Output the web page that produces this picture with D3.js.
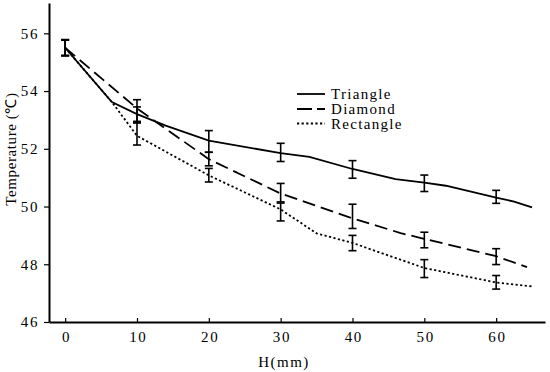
<!DOCTYPE html>
<html>
<head>
<meta charset="utf-8">
<script src="https://cdn.jsdelivr.net/npm/d3@7"></script>
<style>
  html, body { margin: 0; padding: 0; background: #fff; }
  svg { display: block; }
</style>
</head>
<body>
<svg id="chart" width="550" height="372"></svg>
<script>
// ---- data ----
const xTicks = [0, 10, 20, 30, 40, 50, 60];
const yTicks = [46, 48, 50, 52, 54, 56];
const seriesNames = ["Triangle", "Diamond", "Rectangle"];

const triangleH = [0, 6.5, 10, 14, 20, 30, 34, 40, 46, 50, 53, 60, 62.5, 65];
const triangleT = [55.5, 53.62, 53.2, 52.8, 52.28, 51.85, 51.72, 51.3, 50.95, 50.83, 50.72, 50.31, 50.17, 49.97];

const diamondH = [0, 10, 20, 30, 40, 46.7, 50, 60, 64.3];
const diamondT = [55.5, 53.4, 51.64, 50.45, 49.59, 49.08, 48.88, 48.28, 47.9];

const rectangleH = [0, 6.5, 10, 20, 30, 35, 40, 44, 50, 60, 65.2];
const rectangleT = [55.5, 53.62, 52.45, 51.08, 49.9, 49.07, 48.74, 48.39, 47.87, 47.37, 47.23];

const errH = [0, 10, 20, 30, 40, 50, 60];
const triangleLo = [55.22, 52.95, 51.88, 51.56, 50.98, 50.52, 50.11];
const triangleHi = [55.78, 53.45, 52.63, 52.19, 51.59, 51.09, 50.56];
const diamondLo  = [55.22, 52.90, 51.41, 50.16, 49.24, 48.57, 47.99];
const diamondHi  = [55.78, 53.70, 51.88, 50.80, 50.08, 49.11, 48.54];
const rectangleLo = [55.24, 52.13, 50.85, 49.50, 48.47, 47.54, 47.14];
const rectangleHi = [55.76, 52.90, 51.32, 50.12, 49.00, 48.16, 47.61];

// ---- layout ----
const FONT = "'Liberation Serif', 'Times New Roman', Times, serif";
const svg = d3.select("#chart");
const mLeft = 49, mRight = 545, mTop = 3, mBottom = 322;

const x = d3.scaleLinear().domain([-2.25, 66.8]).range([mLeft, mRight]);
const y = d3.scaleLinear().domain([46, 57.05]).range([mBottom, mTop]);

const series = [
  { name: seriesNames[0], h: triangleH, t: triangleT, lo: triangleLo, hi: triangleHi, dash: null, width: 1.8 },
  { name: seriesNames[1], h: diamondH, t: diamondT, lo: diamondLo, hi: diamondHi, dash: "13,6", width: 1.8 },
  { name: seriesNames[2], h: rectangleH, t: rectangleT, lo: rectangleLo, hi: rectangleHi, dash: "2.2,2.4", width: 1.8 }
];

const line = d3.line().x(d => x(d[0])).y(d => y(d[1]));

series.forEach(s => {
  svg.append("path")
    .datum(s.h.map((h, i) => [h, s.t[i]]))
    .attr("d", line)
    .attr("fill", "none")
    .attr("stroke", "#000")
    .attr("stroke-width", s.width)
    .attr("stroke-dasharray", s.dash);
});

// error bars
const capW = 4;
series.forEach(s => {
  const g = svg.append("g").attr("stroke", "#000").attr("stroke-width", 1.6);
  errH.forEach((h, i) => {
    const cx = x(h);
    g.append("line").attr("x1", cx).attr("x2", cx).attr("y1", y(s.lo[i])).attr("y2", y(s.hi[i]));
    g.append("line").attr("x1", cx - capW).attr("x2", cx + capW).attr("y1", y(s.lo[i])).attr("y2", y(s.lo[i]));
    g.append("line").attr("x1", cx - capW).attr("x2", cx + capW).attr("y1", y(s.hi[i])).attr("y2", y(s.hi[i]));
  });
});

// axes
const xAxis = d3.axisBottom(x).tickValues(xTicks).tickSizeInner(-4).tickSizeOuter(0).tickPadding(9);
const gx = svg.append("g").attr("transform", `translate(0,${mBottom})`).call(xAxis);
gx.select(".domain").attr("stroke", "#000").attr("stroke-width", 2);
gx.selectAll(".tick line").attr("stroke", "#000").attr("stroke-width", 1.2);
gx.selectAll(".tick text")
  .style("font-family", FONT)
  .style("font-size", "15px").style("letter-spacing", "1.6px").attr("dx", "0.8px").attr("fill", "#000");

const yAxis = d3.axisLeft(y).tickValues(yTicks).tickSizeInner(5).tickSizeOuter(0).tickPadding(5);
const gy = svg.append("g").attr("transform", `translate(${mLeft},0)`).call(yAxis);
gy.select(".domain").attr("stroke", "#000").attr("stroke-width", 2);
gy.selectAll(".tick line").attr("stroke", "#000").attr("stroke-width", 1.2);
gy.selectAll(".tick text")
  .style("font-family", FONT)
  .style("font-size", "15px").style("letter-spacing", "1.6px").attr("fill", "#000");

// axis titles
svg.append("text")
  .attr("x", 284).attr("y", 367)
  .attr("text-anchor", "middle")
  .style("font-family", FONT)
  .style("font-size", "15px").style("letter-spacing", "1.5px")
  .text("H(mm)");

svg.append("text")
  .attr("transform", "translate(16,149) rotate(-90)")
  .attr("text-anchor", "middle")
  .style("font-family", FONT)
  .style("font-size", "15px").style("letter-spacing", "0.6px")
  .text("Temperature (℃)");

// legend
const legendY = [94, 109, 123.5];
series.forEach((s, i) => {
  svg.append("line")
    .attr("x1", 297).attr("x2", 325)
    .attr("y1", legendY[i]).attr("y2", legendY[i])
    .attr("stroke", "#000").attr("stroke-width", 1.8)
    .attr("stroke-dasharray", s.dash ? (i === 1 ? "15,5" : "2.2,2.4") : null);
  svg.append("text")
    .attr("x", 331).attr("y", legendY[i] + 5)
    .style("font-family", FONT)
    .style("font-size", "15px").style("letter-spacing", "1.3px")
    .text(s.name);
});
</script>
</body>
</html>
